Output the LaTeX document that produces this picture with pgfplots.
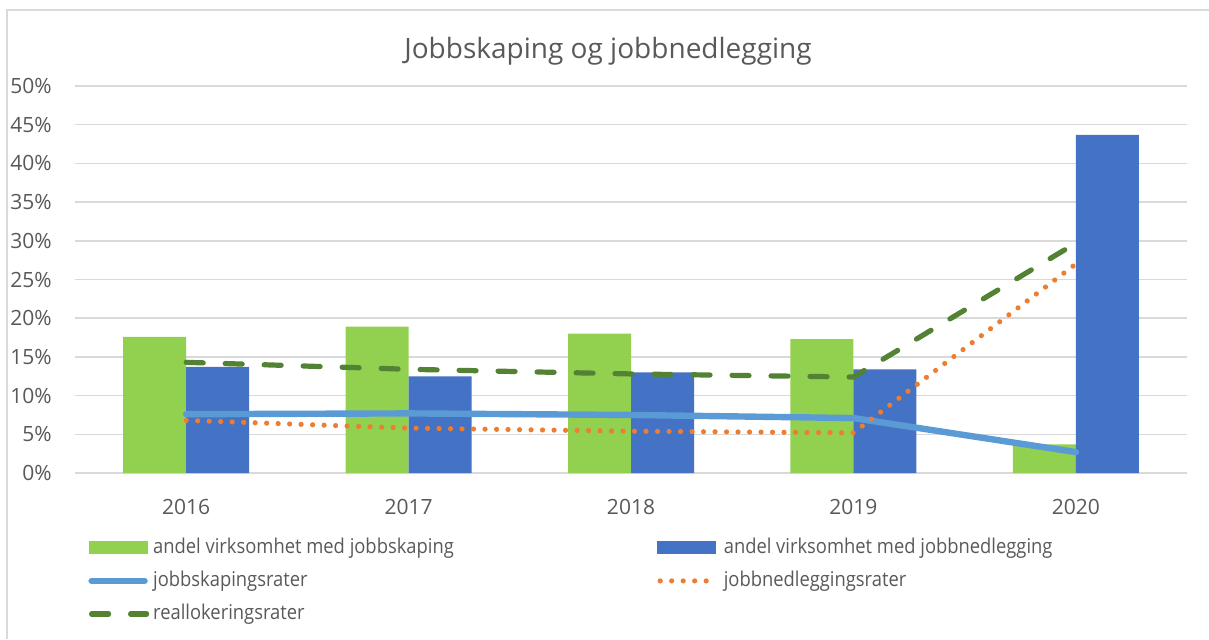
\documentclass[border=0pt]{standalone}
\usepackage{fontspec}
\setmainfont{Open Sans}
\newfontfamily\legfont[FakeStretch=0.9]{Open Sans}
\usepackage{pgfplots}
\pgfplotsset{compat=1.18}

\definecolor{barGreen}{HTML}{92D050}
\definecolor{barBlue}{HTML}{4472C4}
\definecolor{lineBlue}{HTML}{5B9BD5}
\definecolor{lineOrange}{HTML}{ED7D31}
\definecolor{lineGreen}{HTML}{548235}
\definecolor{gridGray}{HTML}{D9D9D9}
\definecolor{txtGray}{HTML}{595959}

\newcommand{\lw}[1]{\makebox[250pt][l]{#1}}

\begin{document}
\begin{tikzpicture}
\path[use as bounding box] (-37.5pt,-83pt) rectangle (567pt,236.5pt);
\draw[gridGray,line width=0.75pt] (-34pt,-83pt) -- (-34pt,231.5pt) -- (567pt,231.5pt);
\node[anchor=base,font=\fontsize{14}{16}\selectfont,text=txtGray] at (266.5pt,207.5pt) {Jobbskaping og jobbnedlegging};
\begin{axis}[
  at={(0,0)},anchor=south west,
  width=556pt,height=193.5pt,scale only axis,
  xmin=-0.5,xmax=4.5,ymin=0,ymax=50,
  xtick={0,1,2,3,4},xticklabels={2016,2017,2018,2019,2020},
  ytick={0,5,...,50},
  yticklabel={\pgfmathprintnumber{\tick}\%},
  /pgf/number format/assume math mode=true,
  tick style={draw=none},
  axis line style={draw=none},
  ymajorgrids,
  grid style={gridGray,line width=0.75pt},
  ticklabel style={font=\fontsize{10.5}{12}\selectfont,text=txtGray},
  yticklabel style={inner sep=0pt,xshift=-11.5pt},
  xticklabel style={inner sep=0pt,yshift=-13pt},
  legend columns=2,
  legend cell align=left,
  legend style={at={(6.5pt,-32pt)},anchor=north west,draw=none,fill=none,
    font=\legfont\fontsize{10.2}{12}\selectfont,text=txtGray,
    column sep=0pt,row sep=6pt,inner sep=0pt,
    nodes={inner xsep=2pt,inner ysep=0pt,text height=8pt,text depth=2.5pt}},
]
\addplot[ybar,bar width=31.5pt,bar shift=-15.75pt,fill=barGreen,draw=none,
  legend image code/.code={\fill[barGreen] (0pt,-3.25pt) rectangle (29.5pt,3.25pt);}]
  coordinates {(0,17.6) (1,18.9) (2,18.0) (3,17.3) (4,3.7)};
\addlegendentry{\lw{andel virksomhet med jobbskaping}}
\addplot[ybar,bar width=31.5pt,bar shift=15.75pt,fill=barBlue,draw=none,
  legend image code/.code={\fill[barBlue] (0pt,-3.25pt) rectangle (29.5pt,3.25pt);}]
  coordinates {(0,13.7) (1,12.5) (2,13.0) (3,13.4) (4,43.7)};
\addlegendentry{andel virksomhet med jobbnedlegging}
\addplot[sharp plot,lineBlue,line width=3.2pt,line cap=round,line join=round,
  legend image code/.code={\draw[lineBlue,line width=3.2pt,line cap=round] (1.5pt,0pt) -- (28pt,0pt);}]
  coordinates {(0,7.6) (1,7.7) (2,7.5) (3,7.1) (4,2.7)};
\addlegendentry{\lw{jobbskapingsrater}}
\addplot[sharp plot,lineOrange,line width=2.6pt,line cap=round,dash pattern=on 0pt off 5.75pt,
  legend image code/.code={\draw[lineOrange,line width=2.6pt,line cap=round,dash pattern=on 0pt off 5.75pt] (1.5pt,0pt) -- (30pt,0pt);}]
  coordinates {(0,6.8) (1,5.8) (2,5.4) (3,5.2) (4,27.0)};
\addlegendentry{jobbnedleggingsrater}
\addplot[sharp plot,lineGreen,line width=2.6pt,line cap=round,dash pattern=on 8.5pt off 11pt,
  legend image code/.code={\draw[lineGreen,line width=2.6pt,line cap=round,dash pattern=on 8.5pt off 11pt] (1.5pt,0pt) -- (29pt,0pt);}]
  coordinates {(0,14.3) (1,13.4) (2,12.8) (3,12.4) (4,29.7)};
\addlegendentry{reallokeringsrater}
\end{axis}
\end{tikzpicture}
\end{document}
